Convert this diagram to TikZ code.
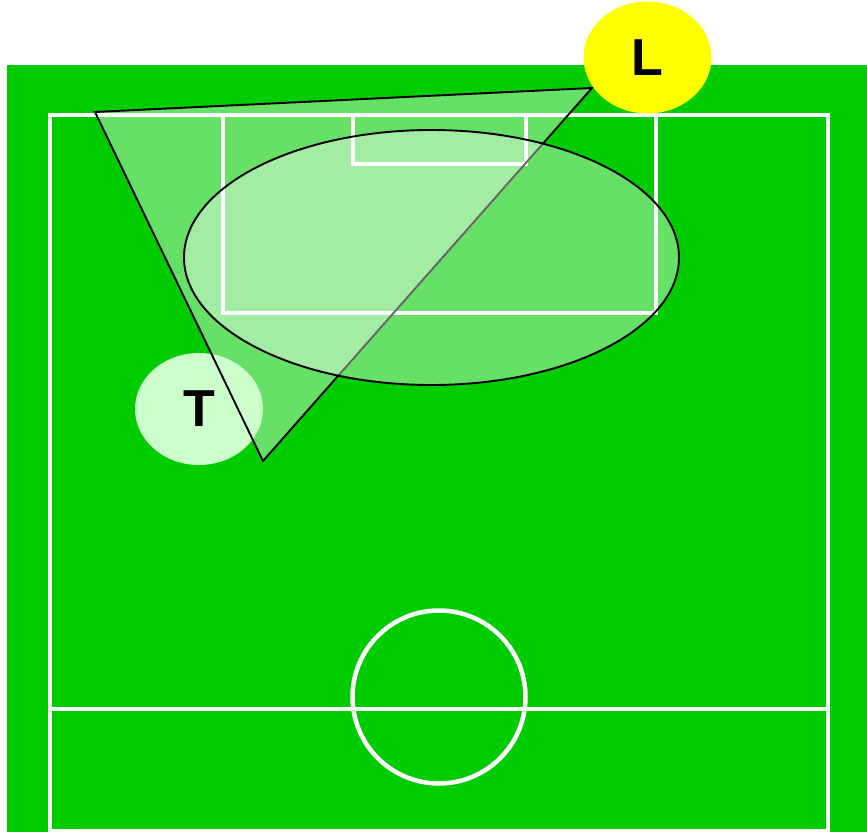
\documentclass[tikz,border=0pt]{standalone}
\usepackage{fontspec}
\setmainfont{Liberation Sans}
\usetikzlibrary{shapes.geometric}
\definecolor{pitch}{HTML}{00CC00}
\definecolor{tlight}{HTML}{CCFFCC}
\definecolor{lyellow}{HTML}{FFFF00}
\tikzset{
  fieldline/.style={draw=white, line width=4.5pt},
  outline/.style={draw=black, line width=1.9pt, line join=miter},
  veil/.style={fill=white, fill opacity=0.4},
  player/.style={ellipse, inner sep=0pt, minimum width=128pt, minimum height=112pt, font=\fontsize{52}{56}\selectfont\bfseries, text=black}
}
\begin{document}
\begin{tikzpicture}[x=1pt,y=-1pt]
\useasboundingbox (0,0) rectangle (867,832);
\fill[white] (0,0) rectangle (867,832);
% pitch
\fill[pitch] (7,65) rectangle (867,832);
\draw[fieldline] (50,115) rectangle (828,831);
\draw[fieldline] (50,709) -- (828,709);
\draw[fieldline] (439,697) circle (86.5);
\draw[fieldline] (223,115) rectangle (656,313);
\draw[fieldline] (353,115) rectangle (526,164);
% passing triangle (fill)
\coordinate (A) at (95,112);
\coordinate (B) at (592,88);
\coordinate (C) at (263,461);
\fill[veil] (A) -- (B) -- (C) -- cycle;
% player T
\node[player, fill=tlight] (T) at (199,409) {T};
% passing triangle (outline)
\draw[outline] (A) -- (B) -- (C) -- cycle;
% target zone
\node[ellipse, outline, veil, draw opacity=1, minimum width=495pt, minimum height=255pt, inner sep=0pt] (Z) at (431.5,257.5) {};
% player L
\node[player, fill=lyellow] (L) at (647.5,57.5) {L};
\end{tikzpicture}
\end{document}
